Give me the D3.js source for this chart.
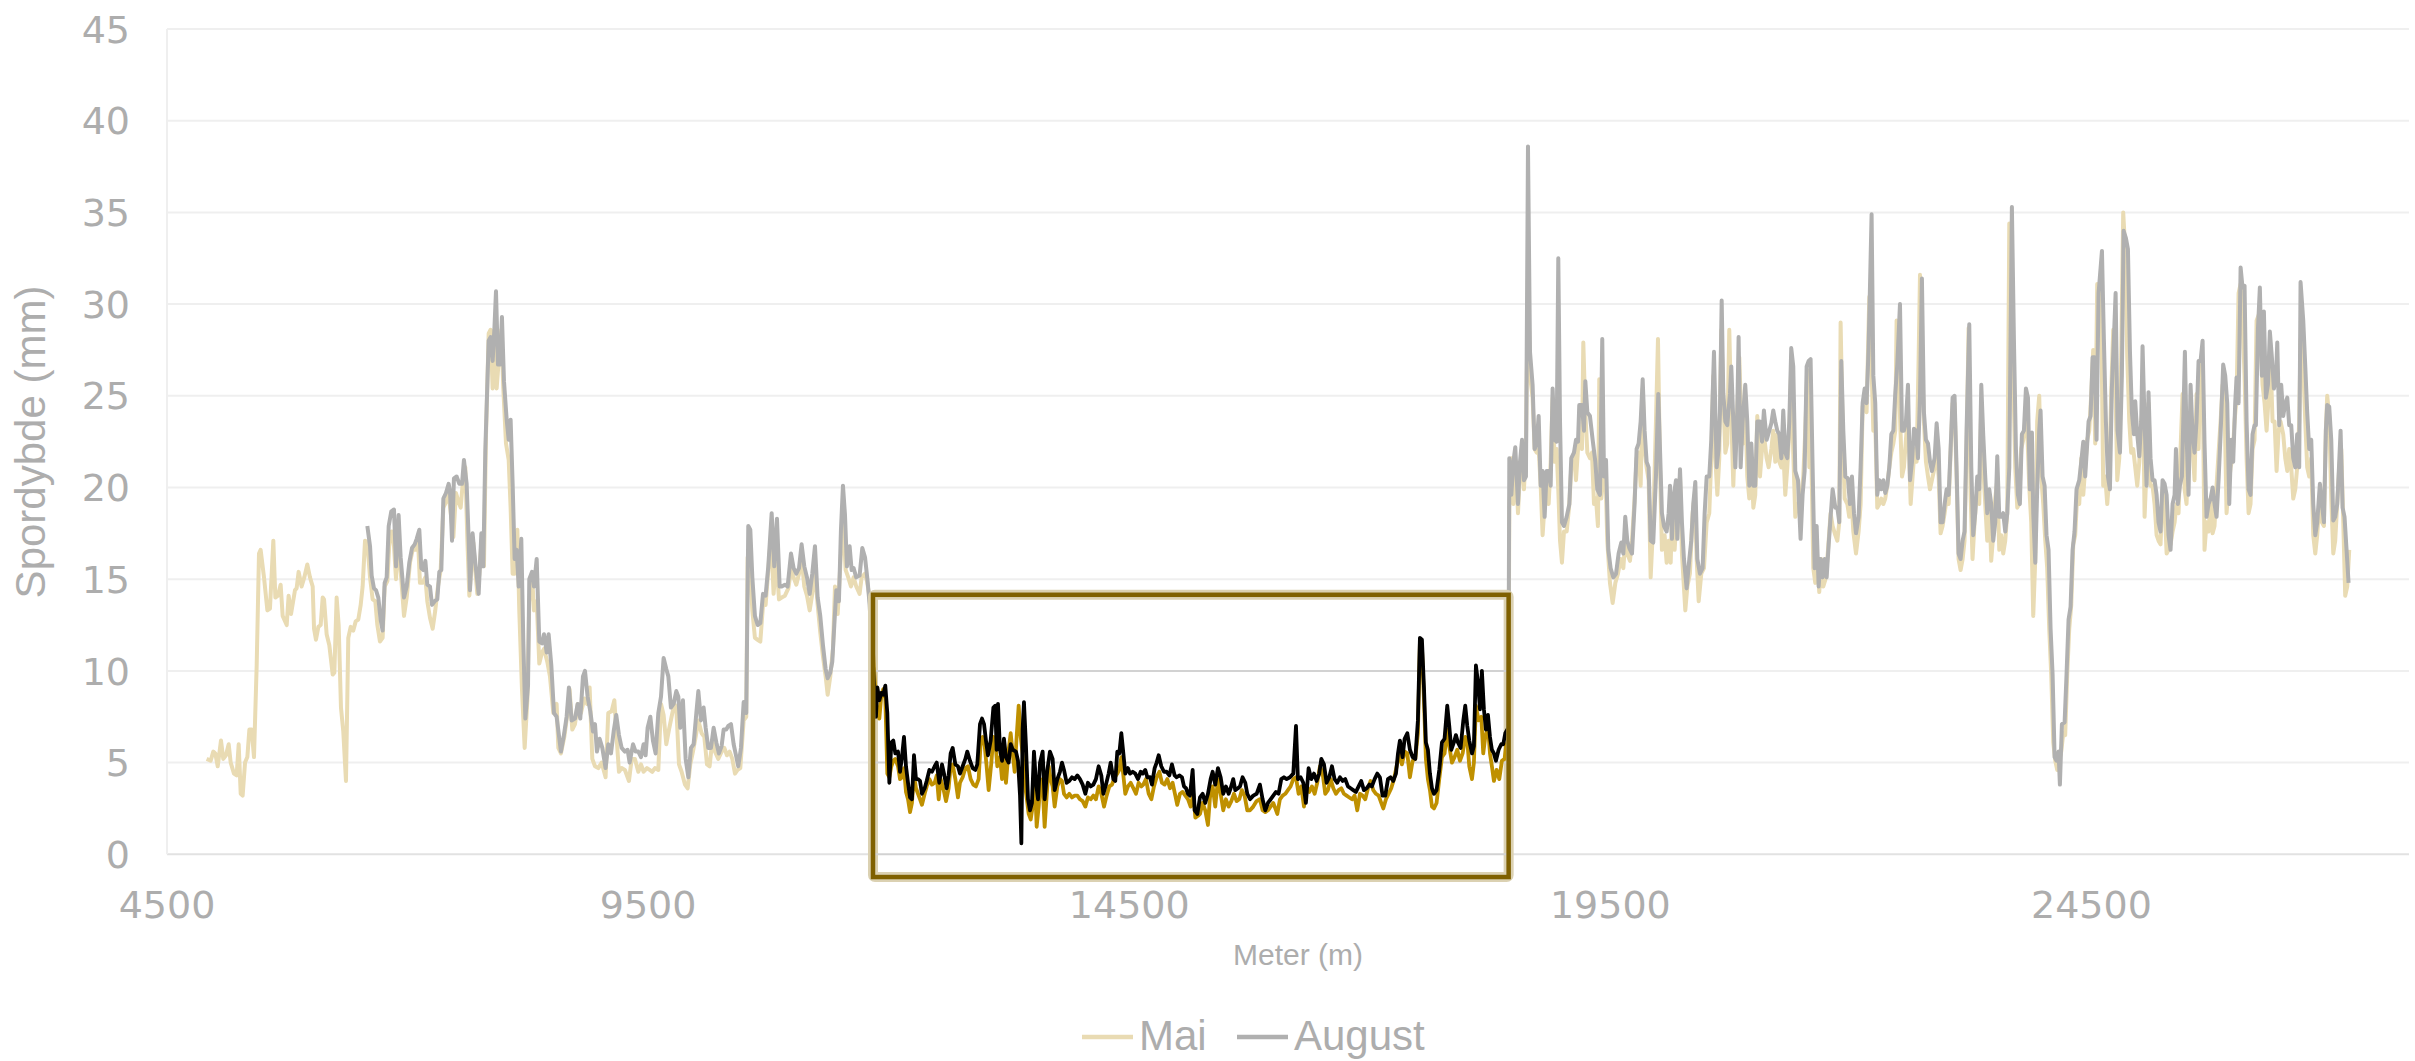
<!DOCTYPE html>
<html><head><meta charset="utf-8">
<script src="https://cdn.jsdelivr.net/npm/d3@7"></script>
<style>html,body{margin:0;padding:0;background:#fff;} svg{display:block}</style>
</head><body>
<svg id="chart" width="2415" height="1061"></svg>
<script>
// ---------- data ----------
const xTicks = [4500, 9500, 14500, 19500, 24500];
const yTicks = [0, 5, 10, 15, 20, 25, 30, 35, 40, 45];
const seriesNames = ["Mai", "August"];
const xTitle = "Meter (m)";
const yTitle = "Spordybde (mm)";
// highlighted stretch (meters / mm)
const highlightRange = [11837, 18443];
const highlightDepth = [-1.24, 14.15];
const highlightGrid = [0, 5, 10];

const maiPoints = [
[4912,5.2],[4954,5.1],[4981,5.6],[5002,5.5],[5027,4.8],[5061,6.2],[5085,5.2],[5113,5.4],[5141,6.0],[5162,5.0],[5196,4.4],[5224,4.3],[5245,6.0],[5266,3.3],[5286,3.2],[5311,5.0],[5335,5.3],[5356,6.8],[5380,6.8],[5404,5.3],[5432,10.3],[5456,16.4],[5473,16.6],[5508,15.1],[5543,13.3],[5570,13.4],[5605,17.1],[5626,14.0],[5653,14.1],[5681,14.7],[5702,13.0],[5744,12.5],[5764,14.1],[5789,13.1],[5830,14.4],[5847,14.5],[5868,15.4],[5899,14.6],[5927,15.1],[5958,15.8],[5986,15.1],[6014,14.6],[6028,12.3],[6048,11.7],[6073,12.4],[6097,12.5],[6118,14.0],[6132,13.9],[6159,12.0],[6187,11.4],[6222,9.8],[6239,9.9],[6263,14.0],[6284,12.5],[6308,8.0],[6332,6.7],[6360,4.0],[6384,11.8],[6409,12.4],[6436,12.2],[6461,12.7],[6488,12.8],[6513,13.6],[6533,14.6],[6558,17.1],[6582,17.0],[6610,15.1],[6637,13.9],[6665,13.8],[6686,12.5],[6713,11.6],[6741,11.8],[6762,14.6],[6790,14.9],[6811,17.0],[6835,17.6],[6859,16.8],[6880,15.0],[6901,17.0],[6928,15.5],[6963,13.0],[6991,14.0],[7025,15.9],[7053,16.6],[7081,16.6],[7108,17.2],[7129,14.8],[7157,14.8],[7185,15.1],[7205,13.8],[7233,12.9],[7261,12.3],[7288,13.3],[7316,14.6],[7344,15.5],[7372,18.9],[7399,19.2],[7427,19.6],[7451,18.5],[7476,17.3],[7503,19.7],[7531,19.2],[7552,18.9],[7573,20.2],[7600,21.1],[7621,17.2],[7642,14.1],[7666,15.8],[7683,17.0],[7704,15.5],[7725,14.2],[7746,15.3],[7767,17.0],[7794,15.7],[7815,22.8],[7843,28.4],[7863,28.6],[7884,25.4],[7905,28.6],[7926,25.4],[7947,26.9],[7974,28.6],[7995,25.4],[8023,22.4],[8051,21.5],[8071,18.9],[8092,15.3],[8113,15.3],[8141,17.7],[8161,13.3],[8189,9.0],[8217,5.8],[8245,8.4],[8265,13.8],[8293,15.3],[8314,13.3],[8342,13.8],[8369,10.4],[8397,11.0],[8418,11.2],[8452,10.5],[8480,9.7],[8515,7.7],[8549,8.2],
[8567,5.8],[8594,5.5],[8629,6.4],[8657,7.5],[8684,9.0],[8712,6.8],[8740,7.1],[8768,8.2],[8802,7.7],[8837,8.5],[8865,8.2],[8892,9.1],[8920,5.2],[8948,4.8],[8982,4.7],[9017,5.0],[9058,4.2],[9086,7.7],[9121,7.8],[9149,8.4],[9176,6.1],[9197,4.5],[9225,4.7],[9259,4.6],[9301,4.0],[9329,5.2],[9363,5.2],[9398,4.5],[9426,4.9],[9453,4.5],[9488,4.7],[9516,4.6],[9543,4.5],[9571,4.7],[9606,4.6],[9634,8.2],[9661,7.6],[9689,6.0],[9717,6.8],[9744,7.5],[9772,8.2],[9793,8.0],[9821,4.9],[9848,4.5],[9883,3.8],[9911,3.6],[9938,4.9],[9966,5.6],[9994,6.4],[10022,7.3],[10056,6.6],[10084,6.4],[10112,4.9],[10139,4.8],[10167,6.2],[10195,5.6],[10229,5.2],[10264,5.6],[10292,5.8],[10319,5.4],[10347,5.6],[10375,5.2],[10403,4.4],[10430,4.6],[10458,4.7],[10493,7.3],[10520,7.5],[10534,16.2],[10562,15.5],[10583,13.3],[10610,11.8],[10638,11.7],[10666,11.6],[10694,13.6],[10721,13.6],[10749,15.5],[10777,17.4],[10804,14.2],[10832,16.2],[10860,13.9],[10888,14.0],[10922,14.1],[10957,14.5],[10985,15.5],[11012,15.1],[11040,14.7],[11068,15.3],[11095,16.2],[11123,14.6],[11151,14.1],[11179,13.3],[11206,14.2],[11234,15.5],[11262,13.6],[11289,12.1],[11317,10.8],[11345,9.7],[11366,8.7],[11393,9.7],[11421,11.2],[11442,14.6],[11470,13.1],[11497,15.7],[11525,18.5],[11553,15.5],[11580,15.1],[11608,14.6],[11636,15.1],[11663,14.6],[11698,14.2],[11719,15.1],[11754,15.3],[11774,14.9],[11802,14.0],
[11868,8.4],[11882,7.7],[11903,7.4],[11924,8.7],[11944,9.0],[11965,8.5],[11986,4.4],[12007,4.2],[12028,4.8],[12048,5.1],[12069,5.2],[12097,4.8],[12118,4.1],[12138,4.2],[12159,4.7],[12180,3.4],[12201,3.0],[12222,2.3],[12242,2.8],[12263,4.3],[12284,3.6],[12305,3.3],[12326,3.0],[12346,2.7],[12374,3.3],[12395,3.7],[12423,4.1],[12450,3.8],[12478,3.9],[12499,4.3],[12520,3.0],[12540,4.1],[12568,3.6],[12596,2.9],[12623,3.6],[12644,4.8],[12665,4.9],[12693,4.1],[12720,3.1],[12741,3.9],[12769,4.2],[12797,4.7],[12824,4.8],[12852,4.1],[12880,3.8],[12907,3.7],[12935,4.1],[12956,6.1],[12977,6.4],[12998,5.9],[13018,4.8],[13039,3.5],[13067,5.0],[13088,6.4],[13108,6.2],[13129,4.8],[13157,5.3],[13178,4.1],[13198,5.2],[13219,3.9],[13247,5.7],[13268,6.6],[13289,5.5],[13309,4.5],[13330,6.4],[13351,8.1],[13372,6.4],[13392,5.5],[13413,3.9],[13434,3.1],[13455,2.2],[13476,1.9],[13496,2.6],[13517,4.4],[13538,1.5],[13559,2.6],[13579,4.1],[13600,3.7],[13621,1.5],[13642,3.2],[13663,4.8],[13683,4.1],[13704,3.7],[13725,2.6],[13753,3.7],[13780,4.1],[13801,4.0],[13822,3.3],[13850,3.1],[13877,3.3],[13905,3.1],[13933,3.2],[13961,3.2],[13988,3.0],[14016,2.9],[14044,2.6],[14071,3.1],[14099,3.0],[14127,3.2],[14154,3.0],[14182,3.7],[14210,3.3],[14238,2.6],[14265,3.2],[14293,3.7],[14321,3.8],[14348,4.2],[14376,4.4],[14397,4.6],[14418,5.3],[14439,4.3],[14459,3.3],[14487,3.7],[14515,3.9],[14543,3.6],[14570,3.3],[14598,3.9],[14626,3.7],[14646,3.8],[14674,4.1],[14702,3.3],[14730,3.0],[14757,3.7],[14785,4.2],[14813,4.5],[14840,3.9],[14868,3.8],[14896,4.1],[14924,3.6],[14951,3.9],[14979,3.2],[14999,2.7],[15027,3.3],[15055,3.4],[15083,3.2],[15111,3.0],[15138,2.6],[15166,3.3],[15187,2.0],[15215,2.1],[15235,2.2],
[15263,2.8],[15290,2.4],[15318,1.6],[15339,3.1],[15367,3.7],[15394,2.6],[15422,4.1],[15450,3.3],[15477,2.4],[15505,3.0],[15533,2.6],[15561,2.9],[15588,3.3],[15616,2.9],[15644,3.0],[15671,3.5],[15699,3.2],[15727,2.4],[15755,2.4],[15789,2.6],[15824,2.9],[15858,3.0],[15886,2.4],[15914,2.3],[15942,2.4],[15969,2.6],[15997,2.8],[16039,2.2],[16066,3.0],[16094,3.2],[16122,3.3],[16149,3.5],[16177,3.7],[16205,4.1],[16233,4.2],[16260,3.3],[16288,3.7],[16316,2.6],[16343,3.7],[16371,3.4],[16399,3.7],[16427,3.3],[16454,3.9],[16482,4.8],[16510,4.4],[16537,3.3],[16565,3.5],[16593,4.1],[16621,3.6],[16648,3.3],[16676,3.5],[16704,3.6],[16731,3.3],[16759,3.2],[16787,3.1],[16815,3.0],[16842,3.2],[16870,2.4],[16898,3.3],[16925,3.2],[16953,3.0],[16981,3.6],[17008,4.0],[17036,3.5],[17064,3.3],[17092,3.2],[17119,2.8],[17140,2.5],[17168,3.0],[17196,3.3],[17223,3.6],[17251,4.1],[17279,4.8],[17306,5.5],[17334,4.9],[17362,5.6],[17390,5.5],[17417,4.2],[17445,5.1],[17473,5.2],[17500,6.6],[17521,11.6],[17542,11.3],[17563,8.4],[17583,5.2],[17604,4.1],[17625,3.5],[17646,2.6],[17667,2.5],[17694,2.8],[17722,4.1],[17750,5.3],[17777,5.5],[17805,6.8],[17826,5.9],[17854,5.0],[17881,5.3],[17909,5.7],[17937,5.1],[17965,5.5],[17992,6.4],[18013,6.2],[18034,4.8],[18062,4.1],[18082,5.0],[18103,8.1],[18131,7.3],[18159,7.5],[18179,5.5],[18200,6.4],[18228,7.0],[18249,5.5],[18269,4.8],[18290,4.0],[18318,4.6],[18346,4.1],[18373,5.1],[18401,5.2],[18415,5.9],[18440,6.2],
[18450,18.9],[18471,21.6],[18492,19.1],[18519,21.4],[18540,18.6],[18561,20.9],[18582,21.4],[18602,19.9],[18623,22.1],[18644,31.6],[18665,26.1],[18692,24.9],[18713,22.1],[18734,21.9],[18755,22.1],[18776,20.1],[18796,17.4],[18817,19.1],[18838,20.4],[18859,19.1],[18880,21.4],[18900,24.9],[18921,21.4],[18942,22.1],[18959,19.9],[18977,17.1],[18997,15.9],[19018,17.6],[19046,17.6],[19074,19.1],[19094,21.1],[19122,21.9],[19143,20.4],[19164,22.1],[19184,22.6],[19205,22.1],[19219,27.9],[19240,24.1],[19261,21.9],[19288,21.6],[19309,21.9],[19330,19.1],[19351,19.4],[19371,17.9],[19385,25.9],[19406,19.4],[19427,20.6],[19448,21.1],[19468,17.1],[19496,14.8],[19524,13.7],[19552,14.8],[19579,15.3],[19607,16.1],[19635,15.6],[19655,17.1],[19676,16.4],[19704,16.0],[19725,17.1],[19752,19.4],[19773,21.6],[19794,21.9],[19815,20.1],[19836,25.4],[19856,22.1],[19877,21.1],[19898,20.4],[19919,15.1],[19946,18.1],[19974,23.6],[19995,28.1],[20016,21.1],[20036,16.6],[20064,17.4],[20085,15.9],[20106,17.1],[20127,15.9],[20147,19.6],[20168,16.6],[20196,19.1],[20224,20.6],[20244,16.4],[20279,13.3],[20300,14.6],[20327,15.3],[20355,18.6],[20376,19.6],[20397,16.1],[20418,13.8],[20445,15.3],[20473,15.6],[20501,18.1],[20528,18.6],[20549,21.6],[20570,26.1],[20591,21.6],[20612,19.6],[20632,21.6],[20653,28.6],[20674,24.9],[20695,21.9],[20715,22.4],[20736,28.6],[20757,23.9],[20778,20.1],[20799,23.4],[20819,24.1],[20840,27.1],[20861,23.6],[20882,22.4],[20902,24.9],[20923,20.6],[20944,19.4],[20965,21.4],[20986,18.9],[21006,19.6],[21027,23.9],[21055,20.6],[21076,22.1],[21096,22.9],[21124,21.6],[21145,21.1],[21173,22.1],[21193,23.1],[21214,21.4],[21235,22.9],[21256,21.4],[21277,21.1],[21297,22.1],[21318,19.6],[21339,21.1],[21360,23.1],[21380,26.6],[21401,21.9],[21422,18.4],[21443,19.1],[21464,19.1],[21484,19.6],[21505,20.6],[21526,23.1],[21547,26.4],[21568,21.1],[21588,22.1],[21609,15.6],[21630,14.8],[21651,16.1],[21671,14.3],[21692,16.1],[21713,14.6],[21741,15.1],[21769,17.1],[21789,18.6],[21810,17.9],[21838,17.4],[21859,17.1],[21879,18.1],[21893,29.0],[21914,23.1],[21935,19.4],[21963,19.1],[21983,18.4],[22004,19.6],[22025,17.6],[22053,16.4],[22080,17.6],[22101,19.1],[22122,24.4],[22143,24.9],[22163,24.1],[22191,30.4],[22212,27.1],[22233,23.1],[22253,23.6],[22274,18.9],[22295,19.1],[22316,19.4],[22337,19.1],[22357,19.4],[22378,20.1],[22399,21.1],[22420,21.9],[22441,22.4],[22461,23.1],[22475,29.1],[22503,25.1],[22531,20.6],[22551,21.1],[22572,22.6],[22593,24.1],[22621,19.1],[22641,20.6],[22662,22.1],[22683,21.4],[22704,27.1],[22718,31.6],[22738,27.1],[22759,23.6],[22780,21.4],[22801,20.6],[22822,19.9],[22842,20.4],[22870,21.1],[22891,22.1],[22912,20.6],[22932,17.5],[22953,17.9],[22974,18.6],[22995,19.4],[23016,19.1],[23036,21.9],
[23057,24.6],[23077,24.6],[23098,20.6],[23119,16.1],[23140,15.5],[23161,16.1],[23181,17.1],[23202,22.1],[23223,28.7],[23244,19.6],[23264,16.1],[23285,18.1],[23306,19.6],[23334,19.1],[23355,24.6],[23375,21.1],[23396,19.1],[23417,17.1],[23438,19.4],[23458,16.0],[23479,17.4],[23500,19.4],[23521,20.4],[23542,16.6],[23562,17.4],[23583,16.4],[23604,17.1],[23625,18.6],[23646,34.4],[23666,34.1],[23687,26.1],[23708,21.1],[23729,18.9],[23749,19.1],[23770,22.1],[23791,22.6],[23812,23.6],[23833,23.1],[23853,20.1],[23874,18.1],[23895,13.0],[23916,16.1],[23936,23.6],[23957,25.0],[23978,20.6],[23999,19.1],[24020,17.1],[24040,15.6],[24061,12.3],[24082,9.8],[24103,6.1],[24124,5.1],[24144,4.6],[24165,5.1],[24186,5.6],[24207,6.6],[24227,6.5],[24248,9.8],[24269,12.3],[24290,13.6],[24311,16.9],[24331,17.4],[24352,19.6],[24373,19.1],[24394,21.6],[24415,19.6],[24435,21.1],[24456,22.6],[24477,23.1],[24498,25.1],[24518,27.5],[24539,22.4],[24560,31.1],[24581,30.6],[24602,29.4],[24622,20.1],[24643,20.6],[24664,19.1],[24685,20.6],[24705,25.1],[24726,28.6],[24747,26.1],[24768,20.4],[24789,21.6],[24809,27.1],[24830,35.0],[24851,32.9],[24872,27.1],[24893,23.6],[24913,21.9],[24934,22.1],[24955,21.1],[24976,20.1],[24997,21.4],[25017,23.6],[25038,24.6],[25052,18.4],[25073,21.1],[25093,24.6],[25114,20.1],[25135,20.1],[25156,19.1],[25177,17.4],[25197,17.1],[25218,16.9],[25239,19.9],[25260,19.1],[25281,16.4],[25301,16.6],[25322,16.9],[25343,17.6],[25364,18.1],[25384,19.1],[25405,18.6],[25426,22.1],[25447,25.1],[25468,19.9],[25488,19.1],[25509,22.1],[25530,23.6],[25551,22.1],[25571,20.4],[25592,25.1],[25613,22.1],[25634,26.9],[25655,26.6],[25675,16.6],[25696,18.1],[25717,17.6],[25738,19.4],[25759,17.5],[25779,17.9],[25800,20.1],[25821,21.9],[25842,23.6],[25863,25.6],[25883,24.6],[25904,18.6],[25925,20.1],[25946,21.1],[25966,21.6],[25987,23.6],[26008,24.9],[26029,30.6],[26050,31.1],[26070,29.1],[26091,26.1],[26112,21.6],[26133,18.6],[26153,19.1],[26174,22.1],[26195,22.6],[26216,29.1],[26237,29.4],[26257,28.1],[26278,25.6],[26299,24.6],[26320,23.1],[26341,24.9],[26361,27.1],[26382,23.6],[26403,23.6],[26424,20.9],[26445,23.1],[26465,23.6],[26493,22.9],[26514,21.6],[26535,20.9],[26555,22.1],[26576,21.1],[26597,19.4],[26618,19.9],[26638,21.1],[26659,23.6],[26673,28.1],[26701,26.6],[26722,23.6],[26742,21.1],[26763,20.6],[26784,21.6],[26805,17.4],[26826,16.4],[26846,17.4],[26874,19.6],[26895,18.1],[26916,17.9],[26936,23.1],[26950,25.0],[26971,23.9],[26992,19.4],[27013,16.4],[27033,17.1],[27054,19.1],[27075,21.1],[27096,22.1],[27117,18.1],[27137,14.1],[27158,14.6],[27179,16.6]
];

const augustPoints = [
[6582,17.9],[6610,16.8],[6627,15.2],[6651,14.5],[6672,14.4],[6696,14.0],[6720,12.8],[6741,12.2],[6762,14.8],[6783,15.1],[6804,17.9],[6831,18.7],[6859,18.8],[6880,15.7],[6907,18.5],[6928,16.2],[6963,14.0],[6991,14.6],[7018,15.9],[7046,16.7],[7074,16.9],[7095,17.2],[7122,17.7],[7143,15.6],[7164,15.5],[7185,16.0],[7205,14.7],[7233,14.6],[7254,13.6],[7282,13.8],[7309,13.9],[7330,15.4],[7351,15.5],[7372,19.4],[7399,19.7],[7427,20.2],[7441,19.8],[7462,17.1],[7482,20.5],[7510,20.6],[7538,20.2],[7566,20.2],[7586,21.5],[7614,20.2],[7635,17.2],[7649,14.4],[7676,17.5],[7704,15.9],[7739,14.2],[7767,17.5],[7787,15.7],[7808,22.0],[7843,28.0],[7863,28.2],[7884,26.9],[7902,28.6],[7919,30.7],[7940,26.7],[7961,26.7],[7981,29.3],[8002,25.8],[8030,23.7],[8051,22.6],[8071,23.7],[8092,20.2],[8113,16.1],[8134,16.6],[8155,14.6],[8182,17.2],[8203,11.6],[8224,7.4],[8252,9.2],[8265,15.0],[8293,15.4],[8314,14.6],[8342,16.1],[8369,11.6],[8397,11.5],[8418,12.0],[8446,11.0],[8466,12.0],[8494,10.3],[8522,7.7],[8549,7.5],
[8594,5.6],[8622,6.4],[8653,7.5],[8677,9.1],[8705,7.3],[8740,7.4],[8768,8.2],[8795,7.4],[8823,9.7],[8844,10.0],[8871,8.6],[8899,7.8],[8927,6.7],[8948,7.1],[8968,5.6],[8996,6.3],[9024,5.8],[9058,4.7],[9086,6.0],[9114,5.5],[9142,6.7],[9169,7.6],[9197,6.5],[9225,5.8],[9259,5.6],[9287,5.7],[9308,5.0],[9343,6.0],[9370,5.6],[9398,5.6],[9426,5.3],[9453,6.0],[9474,5.4],[9495,6.9],[9523,7.5],[9550,6.2],[9578,5.5],[9606,7.7],[9634,8.6],[9661,10.7],[9689,10.1],[9710,9.7],[9737,8.0],[9765,8.2],[9793,8.9],[9814,8.6],[9834,6.9],[9862,8.4],[9890,5.2],[9918,4.2],[9945,5.8],[9973,6.0],[10001,7.7],[10022,8.9],[10049,7.3],[10077,8.0],[10098,6.9],[10125,5.8],[10153,5.8],[10181,6.9],[10209,6.1],[10236,5.5],[10264,5.9],[10285,6.8],[10312,6.8],[10333,7.0],[10361,7.1],[10389,6.0],[10409,5.5],[10437,4.8],[10465,5.8],[10493,8.3],[10520,7.7],[10541,17.9],[10562,17.7],[10583,15.1],[10610,13.0],[10638,12.5],[10666,12.6],[10694,14.2],[10721,14.1],[10749,15.7],[10784,18.6],[10811,15.7],[10839,18.3],[10867,14.6],[10888,14.6],[10922,14.7],[10950,14.6],[10985,16.4],[11012,15.6],[11040,15.3],[11068,15.6],[11095,16.9],[11123,15.7],[11151,15.1],[11179,14.2],[11206,15.3],[11234,16.8],[11262,14.0],[11289,13.0],[11317,11.4],[11345,10.1],[11366,9.6],[11393,9.9],[11414,10.5],[11435,12.5],[11456,14.4],[11483,13.8],[11504,17.7],[11525,20.1],[11546,18.5],[11566,15.7],[11594,16.8],[11615,15.5],[11636,15.6],[11663,15.1],[11698,15.2],[11726,16.7],[11754,16.2],[11781,14.9],[11802,13.6],
[11868,7.5],[11882,9.1],[11903,8.4],[11924,8.8],[11944,8.7],[11965,9.2],[11986,7.7],[12007,3.9],[12028,6.1],[12048,6.2],[12069,5.5],[12097,5.6],[12118,4.5],[12138,5.3],[12159,6.4],[12180,4.8],[12201,3.9],[12222,3.1],[12242,3.0],[12263,5.4],[12284,4.1],[12305,4.1],[12326,4.0],[12346,3.3],[12374,3.6],[12395,4.0],[12423,4.6],[12450,4.5],[12478,4.8],[12499,5.0],[12526,3.9],[12554,4.9],[12575,4.4],[12603,3.6],[12623,4.3],[12644,5.5],[12665,5.8],[12693,4.9],[12720,4.8],[12741,4.4],[12769,4.8],[12797,5.2],[12817,5.6],[12845,5.1],[12873,4.7],[12901,4.6],[12921,4.9],[12949,7.1],[12970,7.4],[12991,7.1],[13011,6.2],[13032,5.4],[13060,6.2],[13088,8.0],[13108,8.1],[13122,5.7],[13136,8.2],[13157,5.7],[13178,5.1],[13198,6.3],[13219,5.3],[13247,5.0],[13268,6.0],[13289,5.7],[13323,5.6],[13344,5.1],[13365,3.2],[13379,0.6],[13392,6.8],[13406,8.3],[13427,5.9],[13448,3.0],[13469,2.4],[13489,2.8],[13510,5.6],[13531,3.9],[13552,3.0],[13573,5.0],[13600,5.6],[13621,3.0],[13649,4.6],[13676,5.6],[13704,5.2],[13725,3.5],[13753,4.1],[13780,4.5],[13801,5.0],[13822,4.6],[13850,3.9],[13877,4.0],[13905,4.2],[13933,4.1],[13961,4.3],[13988,4.1],[14016,3.8],[14044,3.3],[14071,3.9],[14099,3.7],[14127,3.8],[14154,4.1],[14182,4.8],[14210,4.3],[14231,3.3],[14258,3.8],[14286,4.4],[14307,5.0],[14335,4.1],[14355,4.0],[14376,5.6],[14397,5.5],[14418,6.6],[14439,5.5],[14459,4.4],[14487,4.7],[14508,4.4],[14536,4.5],[14563,4.4],[14591,4.1],[14619,4.5],[14640,4.4],[14667,4.6],[14688,4.2],[14716,4.2],[14736,3.8],[14764,4.7],[14785,5.0],[14806,5.4],[14833,4.8],[14861,4.5],[14889,4.5],[14917,4.3],[14944,4.9],[14972,4.3],[14993,4.2],[15020,4.3],[15048,4.2],[15069,3.7],[15090,3.6],[15111,3.3],[15131,3.2],[15159,4.6],[15180,2.4],[15208,2.2],[15235,3.1],
[15263,3.3],[15290,2.8],[15318,3.3],[15346,4.1],[15367,4.5],[15394,3.8],[15422,4.7],[15450,4.2],[15477,3.3],[15505,3.7],[15533,3.3],[15554,3.6],[15581,4.1],[15602,3.5],[15630,3.6],[15651,3.7],[15678,4.2],[15706,3.9],[15727,3.3],[15755,3.0],[15789,3.2],[15824,3.3],[15858,3.8],[15886,3.0],[15914,2.4],[15942,2.8],[15969,3.0],[15997,3.2],[16025,3.4],[16052,3.3],[16080,4.1],[16108,4.2],[16136,4.1],[16170,4.2],[16205,4.4],[16233,7.0],[16253,4.1],[16281,4.2],[16309,3.9],[16336,2.8],[16364,4.7],[16392,4.1],[16420,4.4],[16447,4.0],[16475,4.4],[16496,5.2],[16524,4.9],[16551,3.9],[16579,4.2],[16607,4.8],[16634,4.1],[16662,3.9],[16690,4.2],[16718,4.0],[16745,4.1],[16773,3.7],[16801,3.6],[16828,3.5],[16856,3.4],[16884,3.7],[16911,4.0],[16939,3.5],[16967,3.6],[16995,3.8],[17022,3.7],[17050,4.1],[17078,4.4],[17105,4.2],[17133,3.2],[17161,3.2],[17189,4.1],[17216,4.2],[17244,4.0],[17272,4.4],[17293,5.5],[17313,6.2],[17341,5.3],[17362,6.3],[17390,6.6],[17417,5.7],[17445,5.3],[17473,5.2],[17500,7.3],[17521,11.8],[17542,11.7],[17563,9.1],[17583,6.1],[17604,5.7],[17625,4.4],[17646,3.6],[17667,3.3],[17694,3.5],[17722,4.6],[17750,6.1],[17777,6.3],[17805,8.1],[17826,7.0],[17847,5.7],[17874,6.1],[17895,6.5],[17916,6.1],[17944,5.8],[17972,7.3],[17992,8.1],[18013,7.0],[18034,6.2],[18062,5.5],[18082,5.9],[18103,10.3],[18124,9.4],[18145,7.9],[18165,10.0],[18186,7.9],[18207,6.8],[18228,7.6],[18249,6.4],[18269,5.7],[18290,5.5],[18311,5.1],[18339,5.7],[18366,6.0],[18387,6.0],[18408,6.6],[18440,6.9],
[18450,21.6],[18471,19.6],[18492,21.4],[18512,22.2],[18540,19.1],[18561,21.4],[18582,22.6],[18602,20.4],[18623,20.6],[18644,38.6],[18665,27.4],[18692,25.6],[18713,22.1],[18734,22.4],[18755,23.9],[18776,20.1],[18796,20.9],[18817,18.4],[18838,20.9],[18859,20.9],[18880,20.1],[18900,25.4],[18921,22.6],[18942,22.5],[18959,32.5],[18977,23.6],[18997,18.1],[19018,17.9],[19046,18.4],[19074,19.1],[19094,21.6],[19122,21.9],[19143,22.6],[19164,22.5],[19177,24.5],[19205,24.5],[19226,23.1],[19240,25.8],[19261,24.1],[19288,23.9],[19316,22.6],[19344,21.4],[19364,19.9],[19392,19.6],[19416,28.1],[19434,20.6],[19455,21.5],[19479,16.6],[19503,15.6],[19531,15.1],[19559,15.3],[19586,16.4],[19614,17.0],[19635,16.4],[19655,18.4],[19676,17.1],[19697,16.7],[19725,16.4],[19752,19.1],[19773,22.1],[19794,22.4],[19815,23.6],[19836,25.9],[19856,23.1],[19877,21.4],[19898,21.1],[19919,17.1],[19946,17.0],[19974,20.6],[19998,25.1],[20016,22.1],[20036,18.6],[20057,17.9],[20085,17.6],[20106,18.6],[20120,20.1],[20140,17.2],[20161,19.6],[20182,20.4],[20196,17.2],[20224,21.0],[20244,18.1],[20265,16.1],[20293,14.5],[20321,16.1],[20341,17.1],[20362,19.1],[20383,20.3],[20404,16.1],[20431,15.3],[20459,15.6],[20480,18.6],[20501,20.6],[20528,20.6],[20549,22.6],[20577,27.4],[20605,21.1],[20625,22.1],[20639,24.1],[20657,30.2],[20674,25.1],[20695,23.6],[20715,23.4],[20743,25.1],[20757,26.6],[20778,23.6],[20799,21.1],[20819,24.1],[20833,28.2],[20854,21.1],[20875,23.6],[20902,25.6],[20923,23.6],[20944,20.1],[20965,22.4],[20986,20.1],[21006,20.1],[21027,23.6],[21055,23.6],[21076,22.5],[21096,24.2],[21124,22.6],[21152,23.1],[21173,23.5],[21193,24.2],[21214,23.6],[21235,23.1],[21256,22.9],[21277,21.6],[21297,24.2],[21318,21.9],[21339,21.6],[21360,23.6],[21380,27.6],[21401,26.6],[21422,20.9],[21450,20.4],[21477,17.2],[21498,19.6],[21519,20.9],[21540,26.6],[21561,26.9],[21581,27.0],[21602,21.1],[21623,15.6],[21644,17.9],[21665,14.6],[21685,16.1],[21706,15.1],[21727,16.1],[21748,15.1],[21769,16.9],[21789,18.4],[21810,19.9],[21838,18.9],[21859,18.9],[21879,18.1],[21900,26.9],[21921,23.1],[21942,20.6],[21969,20.5],[21990,19.1],[22011,20.6],[22032,18.6],[22053,17.5],[22080,18.4],[22101,21.1],[22122,24.6],[22143,25.4],[22163,24.6],[22184,27.6],[22215,34.9],[22233,26.1],[22253,24.6],[22274,19.6],[22295,20.4],[22316,19.9],[22337,20.4],[22357,19.7],[22378,20.1],[22399,21.1],[22420,22.9],[22441,23.1],[22461,25.1],[22482,26.7],[22510,30.0],[22531,23.1],[22551,23.1],[22572,23.6],[22593,25.6],[22614,20.4],[22635,21.4],[22655,23.2],[22676,23.1],[22697,21.6],[22718,24.9],[22738,31.4],[22759,24.1],[22780,22.6],[22801,22.4],[22822,21.4],[22842,20.9],[22870,21.6],[22891,23.5],[22912,22.1],[22932,18.1],[22953,18.1],[22974,19.1],[22995,19.9],[23016,19.6],[23036,22.1],
[23057,24.9],[23077,25.0],[23098,21.1],[23119,16.4],[23140,16.1],[23161,17.1],[23181,17.6],[23202,23.1],[23230,28.9],[23251,21.1],[23271,17.4],[23292,18.6],[23313,20.6],[23334,19.9],[23355,25.6],[23375,22.9],[23396,20.6],[23417,18.6],[23438,19.9],[23458,19.1],[23479,17.1],[23500,18.1],[23521,21.7],[23542,18.4],[23562,18.4],[23583,18.6],[23604,17.6],[23625,18.6],[23646,21.1],[23673,35.3],[23694,28.1],[23715,22.1],[23736,19.6],[23756,19.1],[23777,22.9],[23798,23.1],[23819,25.4],[23840,24.9],[23860,19.9],[23881,23.0],[23895,18.6],[23916,15.9],[23936,19.9],[23957,23.1],[23971,24.2],[23992,20.6],[24013,20.1],[24033,17.4],[24054,16.6],[24075,12.3],[24096,9.8],[24117,5.3],[24137,5.1],[24158,5.6],[24172,3.8],[24193,7.1],[24221,7.2],[24241,9.8],[24262,12.8],[24283,13.5],[24304,16.6],[24324,17.6],[24345,19.9],[24373,20.4],[24394,21.4],[24415,22.5],[24435,20.6],[24456,22.4],[24470,23.6],[24491,23.9],[24512,27.1],[24532,27.1],[24553,22.6],[24574,30.6],[24609,32.9],[24629,28.1],[24650,23.6],[24671,20.6],[24692,19.9],[24712,25.4],[24733,28.1],[24751,30.6],[24771,23.1],[24796,21.9],[24816,26.1],[24834,34.0],[24858,33.6],[24879,33.0],[24900,27.4],[24920,24.1],[24941,22.9],[24955,24.7],[24976,22.9],[24997,21.7],[25017,23.6],[25031,27.7],[25052,23.6],[25073,20.1],[25093,25.2],[25114,21.6],[25135,20.4],[25156,20.4],[25177,19.6],[25197,18.1],[25218,17.6],[25239,20.4],[25260,20.2],[25281,19.6],[25301,17.4],[25322,16.6],[25343,19.1],[25364,19.6],[25378,22.1],[25398,19.1],[25419,20.1],[25440,20.6],[25454,23.6],[25471,27.4],[25488,22.9],[25509,19.6],[25530,25.6],[25551,22.9],[25571,21.9],[25592,23.6],[25613,26.9],[25634,26.9],[25655,28.0],[25675,22.4],[25696,18.4],[25717,19.1],[25738,19.4],[25759,20.0],[25779,19.1],[25800,18.4],[25821,20.4],[25842,22.9],[25869,26.7],[25890,26.1],[25911,24.6],[25932,19.1],[25953,22.6],[25973,21.4],[25994,24.6],[26008,26.0],[26029,24.6],[26050,32.0],[26070,30.9],[26091,31.0],[26112,23.6],[26133,19.9],[26153,19.6],[26174,22.9],[26195,23.4],[26209,23.4],[26230,28.6],[26250,30.9],[26271,26.1],[26292,29.6],[26313,24.9],[26334,25.6],[26354,28.5],[26375,27.1],[26396,25.4],[26417,25.9],[26431,27.9],[26451,23.4],[26472,25.6],[26493,23.9],[26514,24.6],[26535,24.9],[26555,23.4],[26576,23.4],[26597,21.6],[26618,21.1],[26638,22.9],[26659,21.1],[26673,31.2],[26701,29.1],[26722,26.6],[26742,24.1],[26763,22.1],[26784,22.6],[26805,19.1],[26826,17.4],[26846,18.1],[26874,20.2],[26895,19.1],[26916,18.1],[26936,23.1],[26950,24.5],[26971,24.4],[26992,22.6],[27013,18.2],[27033,18.4],[27054,19.1],[27068,20.6],[27089,23.1],[27110,18.9],[27130,18.4],[27151,16.6],[27172,14.8]
];

// ---------- styles ----------
const colors = {
  mai: "#E9DBB3", august: "#B0B0B0",
  maiHi: "#BF9000", augustHi: "#000000",
  grid: "#EFEFEF", axis: "#E2E2E2", hiGrid: "#D2D2D2",
  frame: "#7F6000", glow: "#DBD1B2", text: "#ADADAD"
};

// ---------- chart ----------
const svg = d3.select("#chart");
const x = d3.scaleLinear().domain([4500, 27800]).range([167, 2409]);
const y = d3.scaleLinear().domain([0, 45]).range([854.3, 29]);

// gridlines
svg.append("g").selectAll("line").data(yTicks).join("line")
  .attr("x1", x.range()[0]).attr("x2", x.range()[1])
  .attr("y1", d => y(d)).attr("y2", d => y(d))
  .attr("stroke", d => d === 0 ? colors.axis : colors.grid)
  .attr("stroke-width", 2);
svg.append("line").attr("x1", x.range()[0]).attr("x2", x.range()[0])
  .attr("y1", y(45)).attr("y2", y(0)).attr("stroke", colors.grid).attr("stroke-width", 2);

// y tick labels
svg.append("g").selectAll("text").data(yTicks).join("text")
  .attr("x", 130).attr("y", d => y(d)).attr("dy", "0.36em")
  .attr("text-anchor", "end")
  .attr("font-family", "DejaVu Sans, sans-serif").attr("font-size", 38)
  .attr("fill", colors.text).text(d => d);

// x tick labels
svg.append("g").selectAll("text").data(xTicks).join("text")
  .attr("x", d => x(d)).attr("y", 918)
  .attr("text-anchor", "middle")
  .attr("font-family", "DejaVu Sans, sans-serif").attr("font-size", 38)
  .attr("fill", colors.text).text(d => d);

// axis titles
svg.append("text").attr("transform", "translate(45,442) rotate(-90)")
  .attr("text-anchor", "middle")
  .attr("font-family", "Liberation Sans, Arial, sans-serif").attr("font-size", 42)
  .attr("fill", colors.text).text(yTitle);
svg.append("text").attr("x", 1298).attr("y", 965).attr("text-anchor", "middle")
  .attr("font-family", "Liberation Sans, Arial, sans-serif").attr("font-size", 30)
  .attr("fill", colors.text).text(xTitle);

const line = d3.line().x(d => x(d[0])).y(d => y(d[1]));

// main lines
svg.append("path").datum(maiPoints).attr("d", line).attr("fill", "none")
  .attr("stroke", colors.mai).attr("stroke-width", 4).attr("stroke-linejoin", "round");
svg.append("path").datum(augustPoints).attr("d", line).attr("fill", "none")
  .attr("stroke", colors.august).attr("stroke-width", 4).attr("stroke-linejoin", "round");

// highlight box
const bx0 = x(highlightRange[0]), bx1 = x(highlightRange[1]);
const by0 = y(highlightDepth[1]), by1 = y(highlightDepth[0]);
svg.append("rect").attr("x", bx0).attr("y", by0).attr("width", bx1 - bx0).attr("height", by1 - by0)
  .attr("fill", "#fff").attr("stroke", colors.glow).attr("stroke-width", 10).attr("rx", 2);

const inset = 2.3;
svg.append("clipPath").attr("id", "hiClip").append("rect")
  .attr("x", bx0 + inset).attr("y", by0 + inset)
  .attr("width", bx1 - bx0 - 2 * inset).attr("height", by1 - by0 - 2 * inset);
const hi = svg.append("g").attr("clip-path", "url(#hiClip)");
hi.selectAll("line").data(highlightGrid).join("line")
  .attr("x1", bx0).attr("x2", bx1).attr("y1", d => y(d)).attr("y2", d => y(d))
  .attr("stroke", colors.hiGrid).attr("stroke-width", 2);
hi.append("path").datum(maiPoints).attr("d", line).attr("fill", "none")
  .attr("stroke", colors.maiHi).attr("stroke-width", 3.8).attr("stroke-linejoin", "round");
hi.append("path").datum(augustPoints).attr("d", line).attr("fill", "none")
  .attr("stroke", colors.augustHi).attr("stroke-width", 3.8).attr("stroke-linejoin", "round");

svg.append("rect").attr("x", bx0).attr("y", by0).attr("width", bx1 - bx0).attr("height", by1 - by0)
  .attr("fill", "none").attr("stroke", colors.frame).attr("stroke-width", 4.5);

// legend
const legend = [
  {name: seriesNames[0], color: colors.mai, x0: 1082},
  {name: seriesNames[1], color: colors.august, x0: 1237}
];
const lg = svg.append("g").selectAll("g").data(legend).join("g");
lg.append("line").attr("x1", d => d.x0).attr("x2", d => d.x0 + 51)
  .attr("y1", 1037).attr("y2", 1037).attr("stroke", d => d.color).attr("stroke-width", 4.5);
lg.append("text").attr("x", d => d.x0 + 57).attr("y", 1050)
  .attr("font-family", "Liberation Sans, Arial, sans-serif").attr("font-size", 42)
  .attr("fill", colors.text).text(d => d.name);
</script>
</body></html>
